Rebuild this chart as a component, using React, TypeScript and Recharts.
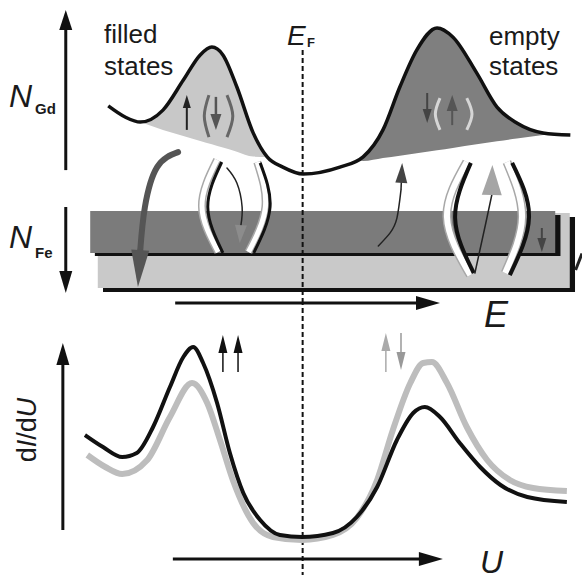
import React from 'react';
import {
  ComposedChart,
  Line,
  Area,
  XAxis,
  YAxis,
  ReferenceArea,
  ReferenceLine
} from 'recharts';

const FONT = '"Liberation Sans", Arial, Helvetica, sans-serif';

// energy axis (E - E_F, arb. units), shared by both panels
const energyDomain = [-5.2, 4.8];

// top panel: Gd density of states
const gdEnergy = [-3.34, -3.05, -2.79, -2.4, -2.05, -1.76, -1.56, -1.37, -1.13, -0.85, -0.61, -0.34, 0.01, 0.64, 1.04, 1.38, 1.67, 1.96, 2.31, 2.58, 2.99, 3.34, 3.68, 4.13, 4.6];
const gdDensity = [3.47, 3.1, 2.93, 3.33, 4.33, 5.17, 5.43, 5.17, 4.1, 2.57, 1.77, 1.43, 1.2, 1.43, 1.77, 2.67, 4.1, 5.33, 6.07, 5.77, 4.57, 3.43, 2.9, 2.57, 2.5];

// shaded wedges under the Gd peaks
const filledEnergy = [-2.79, -2.4, -2.05, -1.76, -1.56, -1.37, -1.13, -0.85, -0.61];
const filledTop = [2.93, 3.33, 4.33, 5.17, 5.43, 5.17, 4.1, 2.57, 1.77];
const filledBase = [2.93, 2.67, 2.47, 2.3, 2.19, 2.08, 1.94, 1.78, 1.77];

const emptyEnergy = [0.97, 1.04, 1.38, 1.67, 1.96, 2.31, 2.58, 2.99, 3.34, 3.68, 4.13, 4.25];
const emptyTop = [1.66, 1.77, 2.67, 4.1, 5.33, 6.07, 5.77, 4.57, 3.43, 2.9, 2.57, 2.53];
const emptyBase = [1.66, 1.63, 1.73, 1.81, 1.89, 1.99, 2.07, 2.19, 2.29, 2.38, 2.5, 2.53];

// Fe bands: [x1, x2, y1, y2]
const feBandLight = [-3.52, 4.59, -0.1, -2.6];
const feBandLightShadow = [-3.43, 4.68, -0.23, -2.73];
const feBandDark = [-3.65, 4.34, -0.03, -1.43];
const feBandDarkShadow = [-3.57, 4.43, -0.17, -1.53];

// bottom panel: dI/dU spectra
const biasBlack = [-3.74, -3.43, -3.1, -2.85, -2.57, -2.28, -2.05, -1.88, -1.71, -1.47, -1.25, -1.02, -0.73, -0.39, -0.01, 0.52, 0.93, 1.28, 1.62, 1.9, 2.1, 2.36, 2.7, 3.05, 3.4, 3.86, 4.54];
const didvBlack = [4.2, 3.72, 3.32, 3.48, 4.52, 6.12, 7.32, 7.72, 7.08, 5.48, 3.48, 1.88, 0.8, 0.2, 0.12, 0.28, 0.92, 2.12, 4.0, 5.08, 5.32, 4.92, 3.88, 2.92, 2.2, 1.72, 1.52];
const biasGrey = [-3.7, -3.39, -3.1, -2.67, -2.28, -1.9, -1.64, -1.42, -1.2, -0.85, -0.51, -0.01, 0.52, 0.93, 1.28, 1.55, 1.85, 2.07, 2.22, 2.48, 2.82, 3.17, 3.56, 3.96, 4.54];
const didvGrey = [3.4, 2.92, 2.64, 3.2, 4.92, 6.28, 5.48, 4.0, 2.4, 0.68, 0.12, 0.0, 0.2, 0.88, 2.4, 4.4, 6.28, 7.08, 7.12, 6.28, 4.52, 3.2, 2.4, 2.08, 1.96];

type Pt = [number, number];

// bracket arcs around the transitions
const brackets: { pts: Pt[]; stroke: string; width: number }[] = [
  { pts: [[-1.47, 1.67], [-1.73, 0.13], [-1.45, -1.4]], stroke: '#a8a8a8', width: 8 },
  { pts: [[-1.47, 1.67], [-1.73, 0.13], [-1.45, -1.4]], stroke: '#ffffff', width: 5 },
  { pts: [[-1.39, 1.6], [-1.63, 0.1], [-1.37, -1.43]], stroke: '#111', width: 3 },
  { pts: [[-0.78, 1.6], [-0.64, 0.1], [-0.93, -1.4]], stroke: '#a8a8a8', width: 8 },
  { pts: [[-0.78, 1.6], [-0.64, 0.1], [-0.93, -1.4]], stroke: '#ffffff', width: 5 },
  { pts: [[-0.73, 1.57], [-0.56, 0.1], [-0.84, -1.43]], stroke: '#111', width: 3 },
  { pts: [[2.82, 1.6], [2.48, -0.23], [2.88, -2.17]], stroke: '#a8a8a8', width: 9 },
  { pts: [[2.82, 1.6], [2.48, -0.23], [2.88, -2.17]], stroke: '#ffffff', width: 6 },
  { pts: [[2.89, 1.57], [2.62, -0.27], [2.94, -2.1]], stroke: '#111', width: 4 },
  { pts: [[3.51, 1.6], [3.77, -0.23], [3.48, -2.1]], stroke: '#a8a8a8', width: 9 },
  { pts: [[3.51, 1.6], [3.77, -0.23], [3.48, -2.1]], stroke: '#ffffff', width: 6 },
  { pts: [[3.6, 1.57], [3.89, -0.23], [3.56, -2.17]], stroke: '#111', width: 4 },
  // small parentheses inside the wedges
  { pts: [[-1.61, 3.83], [-1.69, 3.13], [-1.61, 2.43]], stroke: '#666', width: 3 },
  { pts: [[-1.3, 3.83], [-1.2, 3.13], [-1.3, 2.43]], stroke: '#666', width: 3 },
  { pts: [[2.36, 3.73], [2.28, 3.2], [2.36, 2.67]], stroke: '#d6d6d6', width: 3 },
  { pts: [[2.82, 3.73], [2.91, 3.2], [2.82, 2.67]], stroke: '#d6d6d6', width: 3 }
];

// curved transition arrows: path points, tip, colours
const curvedArrows: { pts: Pt[]; tip: Pt; line: string; width: number; head: string; headL: number; headW: number }[] = [
  { pts: [[-2.14, 1.93], [-2.5, 1.43], [-2.71, 0.1], [-2.79, -1.33]], tip: [-2.83, -2.57], line: '#555', width: 6, head: '#555', headL: 37, headW: 18 },
  { pts: [[-1.3, 1.4], [-1.13, 0.9], [-1.04, 0.1], [-1.06, -0.5]], tip: [-1.08, -1.1], line: '#222', width: 1.5, head: '#8c8c8c', headL: 18, headW: 12 },
  { pts: [[1.3, -1.2], [1.5, -0.77], [1.62, -0.27], [1.69, 0.67]], tip: [1.71, 1.57], line: '#222', width: 1.5, head: '#444', headL: 20, headW: 12 },
  { pts: [[2.96, -2.1], [3.14, -0.5], [3.25, 0.5]], tip: [3.26, 1.5], line: '#222', width: 1.5, head: '#a5a5a5', headL: 30, headW: 20 }
];

type Arrow = { from: Pt; to: Pt; color: string; width: number; headL: number; headW: number };

const topArrows: Arrow[] = [
  { from: [-4.07, 1.33], to: [-4.07, 6.67], color: '#111', width: 3, headL: 20, headW: 13 },
  { from: [-4.07, 0.1], to: [-4.07, -2.77], color: '#111', width: 3, headL: 22, headW: 13 },
  { from: [-1.99, 2.67], to: [-1.99, 3.83], color: '#222', width: 2, headL: 13, headW: 8 },
  { from: [-1.49, 3.77], to: [-1.49, 2.67], color: '#555', width: 2.5, headL: 16, headW: 11 },
  { from: [2.14, 3.9], to: [2.14, 2.9], color: '#444', width: 2, headL: 14, headW: 9 },
  { from: [2.57, 2.83], to: [2.57, 3.83], color: '#555', width: 2, headL: 16, headW: 11 },
  { from: [4.11, -0.6], to: [4.11, -1.4], color: '#444', width: 2, headL: 14, headW: 9 }
];

const bottomArrows: Arrow[] = [
  { from: [-2.19, 9.48], to: [2.36, 9.48], color: '#111', width: 3, headL: 24, headW: 14 },
  { from: [-4.12, 0.4], to: [-4.12, 7.88], color: '#111', width: 3, headL: 22, headW: 13 },
  { from: [-2.23, -0.76], to: [2.41, -0.76], color: '#111', width: 3, headL: 24, headW: 14 },
  { from: [-1.37, 6.72], to: [-1.37, 8.2], color: '#111', width: 1.5, headL: 18, headW: 9 },
  { from: [-1.11, 6.72], to: [-1.11, 8.2], color: '#111', width: 1.5, headL: 18, headW: 9 },
  { from: [1.43, 6.72], to: [1.43, 8.28], color: '#aaa', width: 1.5, headL: 18, headW: 9 },
  { from: [1.69, 8.28], to: [1.69, 6.8], color: '#999', width: 1.5, headL: 18, headW: 9 }
];

const zip = (xs: number[], ys: number[]) => xs.map((e, i) => ({ e, v: ys[i] }));
const zipRange = (xs: number[], lo: number[], hi: number[]) =>
  xs.map((e, i) => ({ e, r: [lo[i], hi[i]] }));
const toRows = (pts: Pt[]) => pts.map(([e, v]) => ({ e, v }));

const arrowShape = (color: string, width: number, headL: number, headW: number, lineColor?: string) =>
  (p: any) => {
    const { x1, y1, x2, y2 } = p;
    const dx = x2 - x1;
    const dy = y2 - y1;
    const len = Math.hypot(dx, dy) || 1;
    const ux = dx / len;
    const uy = dy / len;
    const bx = x2 - ux * headL;
    const by = y2 - uy * headL;
    const nx = (-uy * headW) / 2;
    const ny = (ux * headW) / 2;
    return (
      <g>
        {len > headL && (
          <line x1={x1} y1={y1} x2={bx + ux} y2={by + uy} stroke={lineColor ?? color} strokeWidth={width} />
        )}
        <polygon points={`${x2},${y2} ${bx + nx},${by + ny} ${bx - nx},${by - ny}`} fill={color} />
      </g>
    );
  };

const renderArrows = (list: Arrow[], prefix: string) =>
  list.map((a, i) => (
    <ReferenceLine
      key={`${prefix}-${i}`}
      segment={[{ x: a.from[0], y: a.from[1] }, { x: a.to[0], y: a.to[1] }]}
      ifOverflow="visible"
      shape={arrowShape(a.color, a.width, a.headL, a.headW)}
    />
  ));

const band = (b: number[], fill: string, key: string) => (
  <ReferenceArea key={key} x1={b[0]} x2={b[1]} y1={b[3]} y2={b[2]} fill={fill} fillOpacity={1} stroke="none" ifOverflow="visible" />
);

const textStyle = { fontFamily: FONT, fill: '#1a1a1a' };

function TopPanel() {
  return (
    <ComposedChart width={582} height={300} margin={{ top: 0, right: 0, bottom: 0, left: 0 }}>
      <XAxis dataKey="e" type="number" domain={energyDomain} allowDataOverflow hide />
      <YAxis type="number" domain={[-3, 7]} allowDataOverflow hide />
      {band(feBandLightShadow, '#111', 'ls')}
      {band(feBandLight, '#c9c9c9', 'l')}
      {band(feBandDarkShadow, '#111', 'ds')}
      {band(feBandDark, '#7b7b7b', 'd')}
      <Area data={zipRange(filledEnergy, filledBase, filledTop)} dataKey="r" type="monotone" fill="#c8c8c8" fillOpacity={1} stroke="none" isAnimationActive={false} />
      <Area data={zipRange(emptyEnergy, emptyBase, emptyTop)} dataKey="r" type="monotone" fill="#7f7f7f" fillOpacity={1} stroke="none" isAnimationActive={false} />
      <Line data={zip(gdEnergy, gdDensity)} dataKey="v" type="monotone" stroke="#111" strokeWidth={3.5} dot={false} activeDot={false} isAnimationActive={false} />
      <ReferenceLine segment={[{ x: 0, y: 5.33 }, { x: 0, y: -3 }]} stroke="#111" strokeWidth={2} strokeDasharray="5 3" ifOverflow="visible" />
      {brackets.map((b, i) => (
        <Line key={`br-${i}`} data={toRows(b.pts)} dataKey="v" type="natural" stroke={b.stroke} strokeWidth={b.width} strokeLinecap="butt" dot={false} activeDot={false} isAnimationActive={false} />
      ))}
      {curvedArrows.map((c, i) => (
        <Line key={`ca-${i}`} data={toRows(c.pts)} dataKey="v" type="natural" stroke={c.line} strokeWidth={c.width} strokeLinecap="round" dot={false} activeDot={false} isAnimationActive={false} />
      ))}
      {curvedArrows.map((c, i) => (
        <ReferenceLine
          key={`cah-${i}`}
          segment={[{ x: c.pts[c.pts.length - 1][0], y: c.pts[c.pts.length - 1][1] }, { x: c.tip[0], y: c.tip[1] }]}
          ifOverflow="visible"
          shape={arrowShape(c.head, c.width, c.headL, c.headW, c.line)}
        />
      ))}
      {renderArrows(topArrows, 'ta')}
      <ReferenceLine segment={[{ x: 4.69, y: -2.0 }, { x: 4.8, y: -1.45 }]} stroke="#222" strokeWidth={3} ifOverflow="visible" />
      <text x={104} y={43} fontSize={26} style={textStyle}>filled</text>
      <text x={104} y={75} fontSize={26} style={textStyle}>states</text>
      <text x={489} y={45} fontSize={26} style={textStyle}>empty</text>
      <text x={489} y={75} fontSize={26} style={textStyle}>states</text>
      <text x={287} y={45} fontSize={28} fontStyle="italic" style={textStyle}>E</text>
      <text x={307} y={47} fontSize={13} fontWeight="bold" style={textStyle}>F</text>
      <text x={9} y={107} fontSize={32} fontStyle="italic" style={textStyle}>N</text>
      <text x={35} y={114} fontSize={15} fontWeight="bold" style={textStyle}>Gd</text>
      <text x={9} y={248} fontSize={32} fontStyle="italic" style={textStyle}>N</text>
      <text x={35} y={258} fontSize={15} fontWeight="bold" style={textStyle}>Fe</text>
    </ComposedChart>
  );
}

function BottomPanel() {
  return (
    <ComposedChart width={582} height={300} margin={{ top: 0, right: 0, bottom: 0, left: 0 }}>
      <XAxis dataKey="e" type="number" domain={energyDomain} allowDataOverflow hide />
      <YAxis type="number" domain={[-1.6, 10.4]} allowDataOverflow hide />
      <ReferenceLine segment={[{ x: 0, y: 9.6 }, { x: 0, y: -1.4 }]} stroke="#111" strokeWidth={2} strokeDasharray="5 3" ifOverflow="visible" />
      <Line data={zip(biasGrey, didvGrey)} dataKey="v" type="monotone" stroke="#bdbdbd" strokeWidth={6} dot={false} activeDot={false} isAnimationActive={false} />
      <Line data={zip(biasBlack, didvBlack)} dataKey="v" type="monotone" stroke="#111" strokeWidth={4} dot={false} activeDot={false} isAnimationActive={false} />
      {renderArrows(bottomArrows, 'ba')}
      <text x={484} y={47} fontSize={36} fontStyle="italic" style={textStyle}>E</text>
      <text x={480} y={293} fontSize={32} fontStyle="italic" style={textStyle}>U</text>
      <text x={36} y={150} fontSize={27} textAnchor="middle" transform="rotate(-90 36 150)" style={textStyle}>
        d<tspan fontStyle="italic">I</tspan>/d<tspan fontStyle="italic">U</tspan>
      </text>
    </ComposedChart>
  );
}

export default function App() {
  return (
    <div style={{ position: 'absolute', left: 0, top: 0, width: 582, height: 580, background: '#fff' }}>
      <div style={{ position: 'absolute', left: 0, top: 0 }}>
        <TopPanel />
      </div>
      <div style={{ position: 'absolute', left: 0, top: 280 }}>
        <BottomPanel />
      </div>
    </div>
  );
}
